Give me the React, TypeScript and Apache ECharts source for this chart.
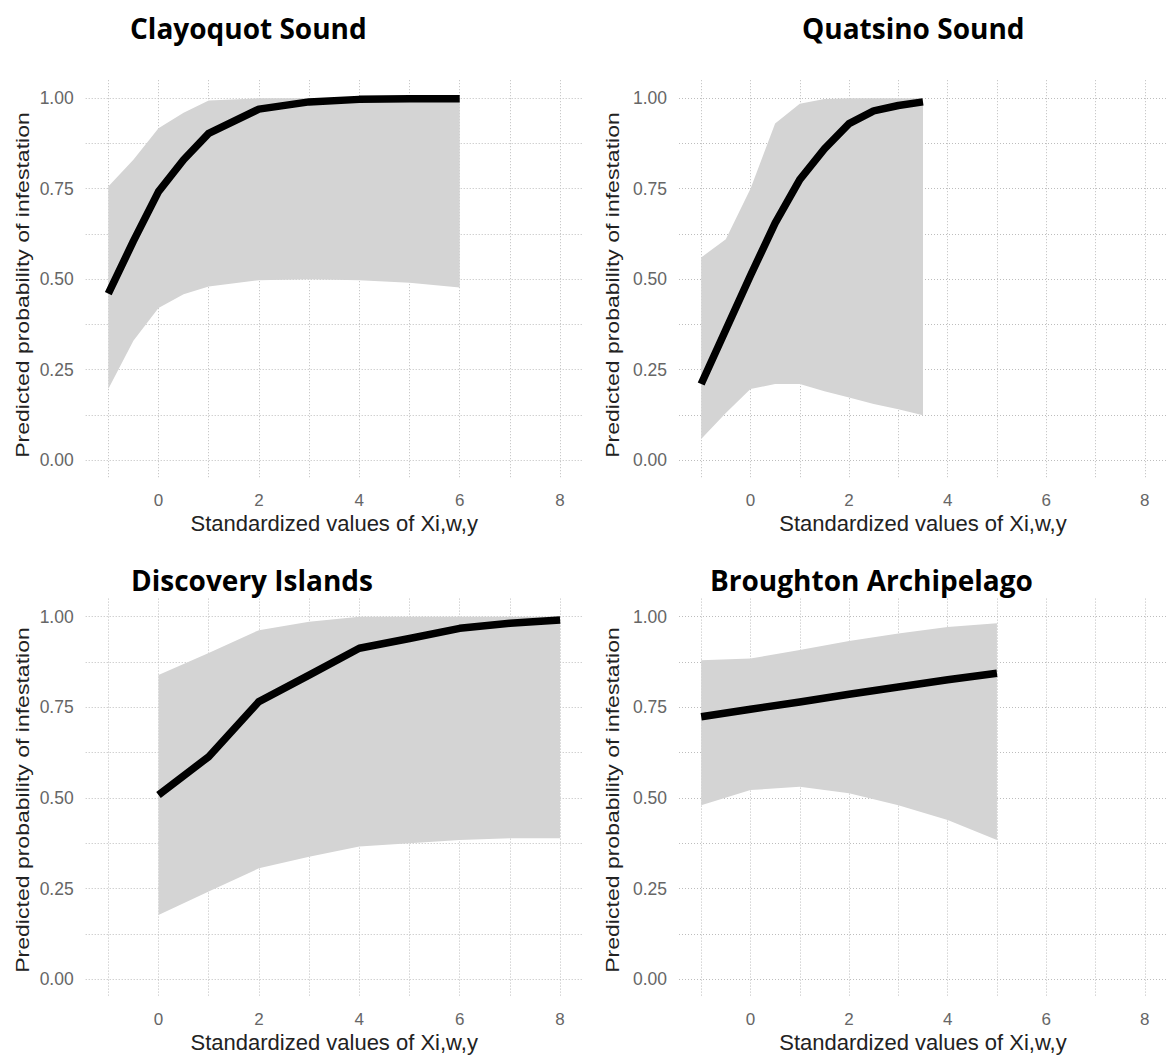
import React, { useEffect, useRef } from "react";
import * as echarts from "echarts";

// ---------- data ----------
const panelTitles = ["Clayoquot Sound", "Quatsino Sound", "Discovery Islands", "Broughton Archipelago"];

const clayX = [-1, -0.5, 0, 0.5, 1, 2, 3, 4, 5, 6];
const clayFit = [0.46, 0.605, 0.742, 0.83, 0.903, 0.97, 0.99, 0.997, 0.999, 0.999];
const clayLow = [0.196, 0.33, 0.42, 0.458, 0.48, 0.497, 0.5, 0.497, 0.49, 0.477];
const clayUp = [0.756, 0.83, 0.917, 0.96, 0.994, 1.0, 1.0, 1.0, 1.0, 1.0];

const quatX = [-1, -0.5, 0, 0.5, 1, 1.5, 2, 2.5, 3, 3.5];
const quatFit = [0.21, 0.36, 0.51, 0.655, 0.775, 0.86, 0.93, 0.965, 0.98, 0.99];
const quatLow = [0.058, 0.13, 0.196, 0.21, 0.21, 0.19, 0.173, 0.155, 0.14, 0.124];
const quatUp = [0.56, 0.61, 0.75, 0.93, 0.985, 0.998, 1.0, 1.0, 1.0, 1.0];

const discX = [0, 1, 2, 3, 4, 5, 6, 7, 8];
const discFit = [0.508, 0.614, 0.766, 0.839, 0.913, 0.94, 0.968, 0.982, 0.991];
const discLow = [0.177, 0.242, 0.306, 0.338, 0.366, 0.375, 0.384, 0.389, 0.389];
const discUp = [0.839, 0.9, 0.963, 0.986, 1.0, 1.0, 1.0, 1.0, 1.0];

const brouX = [-1, 0, 1, 2, 3, 4, 5];
const brouFit = [0.724, 0.745, 0.765, 0.786, 0.806, 0.826, 0.844];
const brouLow = [0.48, 0.522, 0.531, 0.513, 0.48, 0.439, 0.384];
const brouUp = [0.88, 0.885, 0.908, 0.933, 0.954, 0.972, 0.982];

const xGridValues = [-1, 0, 1, 2, 3, 4, 5, 6, 7, 8];
const xLabelValues = [0, 2, 4, 6, 8];
const yGridValues = [0, 0.125, 0.25, 0.375, 0.5, 0.625, 0.75, 0.875, 1];
const yLabelValues = [0, 0.25, 0.5, 0.75, 1];

const xAxisTitle = "Standardized values of Xi,w,y";
const yAxisTitle = "Predicted probability of infestation";

const panels = [
  { x: clayX, fit: clayFit, low: clayLow, up: clayUp },
  { x: quatX, fit: quatFit, low: quatLow, up: quatUp },
  { x: discX, fit: discFit, low: discLow, up: discUp },
  { x: brouX, fit: brouFit, low: brouLow, up: brouUp },
];

// ---------- layout ----------
const gridBoxes = [
  { left: 85.7, top: 80.2, width: 497, height: 397.9 },
  { left: 679, top: 80.2, width: 498, height: 397.9 },
  { left: 85.7, top: 598.6, width: 497, height: 398.8 },
  { left: 679, top: 598.6, width: 498, height: 398.8 },
];
const titlePos = [
  { left: 130, top: 14 },
  { left: 802, top: 14 },
  { left: 131, top: 566 },
  { left: 710, top: 566 },
];
const yTitlePos = [
  { x: 22, y: 285 },
  { x: 612, y: 285 },
  { x: 22, y: 800 },
  { x: 612, y: 800 },
];

const FONT = "'Liberation Sans', Arial, sans-serif";
const gridLine = { show: true, lineStyle: { color: "#bdbdbd", type: [1, 2] as any, width: 1 } };

export default function App() {
  const ref = useRef<HTMLDivElement>(null);
  useEffect(() => {
    if (!ref.current) return;
    const chart = echarts.init(ref.current, null, { renderer: "svg" });

    const grid = gridBoxes.map((g) => ({ ...g, containLabel: false }));
    const xAxis = gridBoxes.map((_, i) => ({
      type: "value",
      gridIndex: i,
      min: -1.45,
      max: 8.45,
      axisLine: { show: false },
      axisTick: { show: false, customValues: xGridValues },
      splitLine: gridLine,
      axisLabel: {
        customValues: xLabelValues,
        margin: 14,
        fontSize: 17,
        color: "#666",
        fontFamily: FONT,
      },
      name: xAxisTitle,
      nameLocation: "middle",
      nameGap: 34,
      nameTextStyle: { fontSize: 22, color: "#222", fontFamily: FONT },
    }));
    const yAxis = gridBoxes.map((_, i) => ({
      type: "value",
      gridIndex: i,
      min: -0.05,
      max: 1.05,
      axisLine: { show: false },
      axisTick: { show: false, customValues: yGridValues },
      splitLine: gridLine,
      axisLabel: {
        customValues: yLabelValues,
        margin: 12,
        fontSize: 17.5,
        color: "#666",
        fontFamily: FONT,
        formatter: (v: number) => v.toFixed(2),
      },
    }));

    const series: any[] = [];
    panels.forEach((p, i) => {
      series.push({
        type: "custom",
        xAxisIndex: i,
        yAxisIndex: i,
        coordinateSystem: "cartesian2d",
        data: [[p.x[0], p.low[0]]],
        silent: true,
        z: 1,
        renderItem: (_params: any, api: any) => {
          const top = p.x.map((x, k) => api.coord([x, p.up[k]]));
          const bottom = p.x.map((x, k) => api.coord([x, p.low[k]])).reverse();
          return {
            type: "polygon",
            shape: { points: top.concat(bottom) },
            style: { fill: "#d4d4d4" },
          };
        },
      });
      series.push({
        type: "line",
        xAxisIndex: i,
        yAxisIndex: i,
        data: p.x.map((x, k) => [x, p.fit[k]]),
        symbol: "none",
        lineStyle: { color: "#000", width: 7.5, join: "round" as any, cap: "butt" as any },
        z: 3,
      });
    });

    const title = panelTitles.map((t, i) => ({
      text: t,
      left: titlePos[i].left,
      top: titlePos[i].top,
      padding: 0,
      textStyle: { fontFamily: "'Open Sans', sans-serif", fontWeight: "bold", fontSize: 28, color: "#000" },
    }));

    const graphic = yTitlePos.map((p) => ({
      type: "text",
      x: p.x,
      y: p.y,
      rotation: Math.PI / 2,
      scaleX: 1.28,
      scaleY: 1,
      style: {
        text: yAxisTitle,
        fontFamily: FONT,
        fontSize: 18,
        fill: "#222",
        align: "center",
        verticalAlign: "middle",
      },
    }));

    chart.setOption({
      animation: false,
      backgroundColor: "#fff",
      title,
      grid,
      xAxis,
      yAxis,
      series,
      graphic,
    } as any);

    return () => chart.dispose();
  }, []);

  return (
    <div
      ref={ref}
      style={{ position: "fixed", left: 0, top: 0, width: 1167, height: 1058, background: "#fff" }}
    />
  );
}
